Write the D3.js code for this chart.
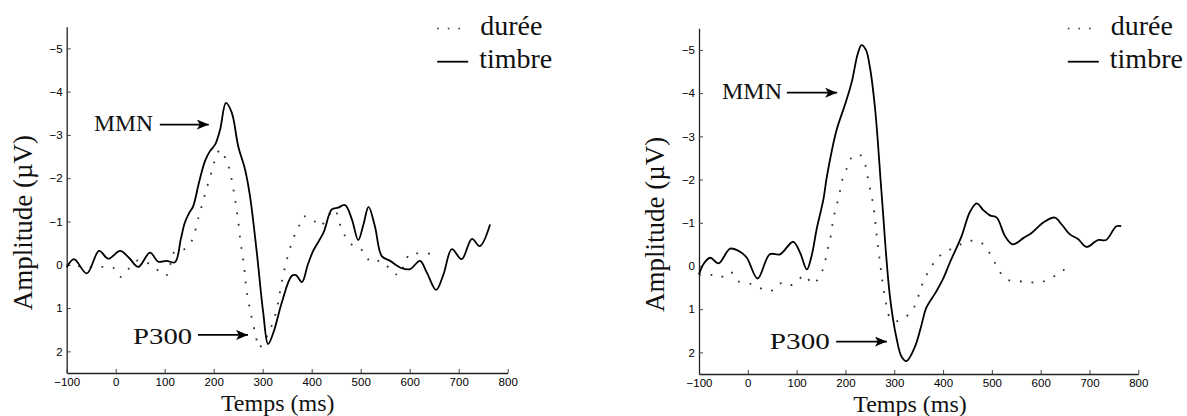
<!DOCTYPE html>
<html><head><meta charset="utf-8">
<script src="https://cdn.jsdelivr.net/npm/d3@7"></script>
<style>body{margin:0;background:#fff} svg{display:block}</style>
</head><body><svg id="c" width="1187" height="416"></svg>
<script>
// ---- data ----
const timeTicks = [-100, 0, 100, 200, 300, 400, 500, 600, 700, 800];
const ampTicks = [-5, -4, -3, -2, -1, 0, 1, 2];
const timeDomain = [-100, 800];
const ampDomain = [-5.5, 2.5];
const legendLabels = ["durée", "timbre"];
const xTitle = "Temps (ms)";
const yTitle = "Amplitude (µV)";

// left panel: [time ms, amplitude µV]
const leftDuree = [[-100,0.0],[-60,0.05],[-27,0.05],[-5,0.07],[9,0.28],[24,0.12],[45,-0.1],[63,-0.05],[80,0.05],[90,0.18],[104,0.24],[120,-0.3],[140,-0.36],[155,-0.55],[169,-1.09],[182,-1.62],[196,-2.16],[203,-2.43],[213,-2.66],[225,-2.43],[233,-2.16],[242,-1.62],[249,-1.09],[255,-0.51],[262,0.03],[267,0.58],[276,1.14],[286,1.64],[292,1.92],[302,1.78],[313,1.55],[323,1.26],[331,0.9],[338,0.45],[348,-0.06],[362,-0.6],[373,-0.86],[382,-1.11],[400,-1.07],[417,-0.89],[432,-1.1],[447,-1.28],[456,-0.99],[465,-0.73],[477,-0.51],[492,-0.4],[507,-0.3],[520,-0.06],[532,-0.08],[543,-0.09],[560,0.1],[578,0.24],[589,-0.01],[601,-0.26],[621,-0.26],[648,-0.26]];
const leftTimbre = [[-100,0.06],[-85,-0.13],[-59,0.2],[-34,-0.32],[-15,-0.14],[9,-0.32],[28,-0.15],[46,0.05],[70,-0.28],[87,-0.07],[104,-0.09],[121,-0.06],[133,-0.6],[141,-0.97],[150,-1.2],[158,-1.35],[170,-1.9],[182,-2.39],[192,-2.62],[203,-2.78],[213,-3.12],[225,-3.74],[237,-3.51],[250,-2.74],[264,-2.2],[274,-1.59],[288,-0.28],[301,1.1],[311,1.83],[322,1.56],[339,0.87],[359,0.26],[368,0.24],[380,0.4],[392,0.0],[403,-0.32],[424,-0.74],[441,-1.28],[454,-1.32],[468,-1.38],[482,-1.05],[495,-0.57],[506,-0.95],[516,-1.34],[529,-0.89],[543,-0.2],[560,-0.09],[584,0.08],[601,0.1],[621,-0.09],[635,0.18],[654,0.58],[669,0.22],[686,-0.36],[706,-0.13],[727,-0.6],[743,-0.43],[764,-0.93]];

// right panel
const rightDuree = [[-100,0.21],[-77,0.2],[-57,0.27],[-36,0.13],[-21,0.35],[2,0.4],[24,0.51],[47,0.58],[66,0.4],[81,0.47],[100,0.37],[116,0.21],[133,0.42],[148,0.22],[157,-0.04],[162,-0.31],[168,-0.58],[176,-1.13],[182,-1.4],[188,-1.68],[192,-1.94],[201,-2.2],[209,-2.46],[228,-2.59],[240,-2.36],[245,-2.09],[250,-1.81],[255,-1.54],[259,-1.24],[264,-0.71],[270,-0.15],[276,0.38],[284,0.92],[291,1.19],[303,1.28],[315,1.23],[335,1.07],[345,0.83],[354,0.55],[361,0.31],[374,0.07],[386,-0.16],[406,-0.33],[428,-0.45],[450,-0.57],[474,-0.57],[491,-0.37],[503,-0.15],[515,0.12],[532,0.32],[555,0.35],[578,0.38],[602,0.37],[624,0.26],[643,0.13],[661,-0.04]];
const rightTimbre = [[-100,0.2],[-91,-0.04],[-77,-0.19],[-60,-0.06],[-36,-0.4],[-16,-0.33],[-2,-0.19],[20,0.29],[45,-0.27],[66,-0.27],[93,-0.56],[107,-0.31],[121,0.08],[131,-0.25],[141,-0.85],[155,-1.55],[162,-2.07],[182,-3.15],[199,-3.73],[213,-4.26],[225,-4.9],[233,-5.11],[242,-5.0],[250,-4.61],[261,-3.61],[274,-1.69],[291,0.69],[305,1.69],[315,2.1],[325,2.2],[342,1.88],[355,1.4],[366,0.96],[385,0.61],[400,0.3],[414,-0.08],[438,-0.69],[455,-1.25],[469,-1.45],[482,-1.3],[496,-1.17],[510,-1.12],[527,-0.69],[543,-0.5],[565,-0.65],[582,-0.77],[606,-1.01],[629,-1.12],[643,-0.96],[660,-0.73],[677,-0.62],[694,-0.44],[717,-0.6],[734,-0.6],[755,-0.92],[765,-0.92]];

// annotations: label, text end time, arrow from/to time, arrow amplitude, text baseline amplitude
const leftAnnotations = [
  {label:"MMN", textEnd:76, from:90, to:190, arrowV:-3.24, textV:-3.08, len:59},
  {label:"P300", textEnd:156, from:168, to:270, arrowV:1.62, textV:1.83, len:59}
];
const rightAnnotations = [
  {label:"MMN", textEnd:70, from:80, to:183, arrowV:-4.01, textV:-3.86, len:60},
  {label:"P300", textEnd:168, from:181, to:285, arrowV:1.75, textV:1.92, len:60}
];

const panels = [
  {x0:66.7, x1:507.7, yTop:26.7, yBot:373, duree:leftDuree, timbre:leftTimbre, ann:leftAnnotations},
  {x0:699, x1:1138.3, yTop:28.3, yBot:374, duree:rightDuree, timbre:rightTimbre, ann:rightAnnotations}
];

const svg = d3.select("#c");
const defs = svg.append("defs");
defs.append("marker").attr("id","arr").attr("markerUnits","userSpaceOnUse")
  .attr("viewBox","0 0 12 10").attr("markerWidth",12).attr("markerHeight",10)
  .attr("refX",12).attr("refY",5).attr("orient","auto")
  .append("path").attr("d","M0,0 L12,5 L0,10 L3,5 Z").attr("fill","#000");

const serif = "'Liberation Serif','Times New Roman',serif";
const sans = "'Liberation Sans',Arial,sans-serif";

panels.forEach(p => {
  const x = d3.scaleLinear().domain(timeDomain).range([p.x0, p.x1]);
  const y = d3.scaleLinear().domain(ampDomain).range([p.yTop, p.yBot]);
  const g = svg.append("g");

  const xa = g.append("g").attr("transform",`translate(0,${p.yBot})`)
    .call(d3.axisBottom(x).tickValues(timeTicks).tickFormat(d3.format("d"))
      .tickSizeInner(-4).tickSizeOuter(0).tickPadding(5));
  const ya = g.append("g").attr("transform",`translate(${p.x0},0)`)
    .call(d3.axisLeft(y).tickValues(ampTicks).tickFormat(d3.format("d"))
      .tickSizeInner(-4).tickSizeOuter(0).tickPadding(4));
  [xa, ya].forEach(a => {
    a.select(".domain").attr("stroke","#222").attr("stroke-width",1.3);
    a.selectAll(".tick line").attr("stroke","#444").attr("stroke-width",1);
    a.selectAll("text").attr("font-family",sans).attr("font-size",11.5).attr("fill","#000");
  });

  const line = d3.line().x(d => x(d[0])).y(d => y(d[1])).curve(d3.curveCatmullRom.alpha(0.5));
  g.append("path").datum(p.duree).attr("d",line).attr("fill","none")
    .attr("stroke","#333").attr("stroke-width",1.8).attr("stroke-dasharray","1.8 9.8");
  g.append("path").datum(p.timbre).attr("d",line).attr("fill","none")
    .attr("stroke","#000").attr("stroke-width",1.8).attr("stroke-linejoin","round");

  // annotations
  p.ann.forEach(a => {
    g.append("text").attr("x",x(a.textEnd)).attr("y",y(a.textV)).attr("text-anchor","end")
      .attr("font-family",serif).attr("font-size",23).attr("fill","#111")
      .attr("textLength",a.len).attr("lengthAdjust","spacingAndGlyphs").text(a.label);
    g.append("line").attr("x1",x(a.from)).attr("x2",x(a.to)).attr("y1",y(a.arrowV)).attr("y2",y(a.arrowV))
      .attr("stroke","#000").attr("stroke-width",1.8).attr("marker-end","url(#arr)");
  });

  // axis titles
  g.append("text").attr("x",p.x0 + 211).attr("y",p.yBot + 38).attr("text-anchor","middle")
    .attr("font-family",serif).attr("font-size",24).attr("fill","#111").text(xTitle);
  g.append("text").attr("transform",`translate(${p.x0 - 35},${p.yTop + 196}) rotate(-90)`)
    .attr("text-anchor","middle").attr("font-family",serif).attr("font-size",27).attr("fill","#111").text(yTitle);

  // legend
  const lx = p.x1 - 70.5;
  g.append("line").attr("x1",lx).attr("x2",lx+27).attr("y1",28.5).attr("y2",28.5)
    .attr("stroke","#333").attr("stroke-width",1.5).attr("stroke-dasharray","1.6 9");
  g.append("line").attr("x1",lx).attr("x2",lx+31).attr("y1",61.7).attr("y2",61.7)
    .attr("stroke","#000").attr("stroke-width",1.8);
  g.append("text").attr("x",lx+43).attr("y",34.5).attr("font-family",serif).attr("font-size",28)
    .attr("fill","#111").text(legendLabels[0]);
  g.append("text").attr("x",lx+42).attr("y",68).attr("font-family",serif).attr("font-size",28)
    .attr("fill","#111").text(legendLabels[1]);
});
</script></body></html>
